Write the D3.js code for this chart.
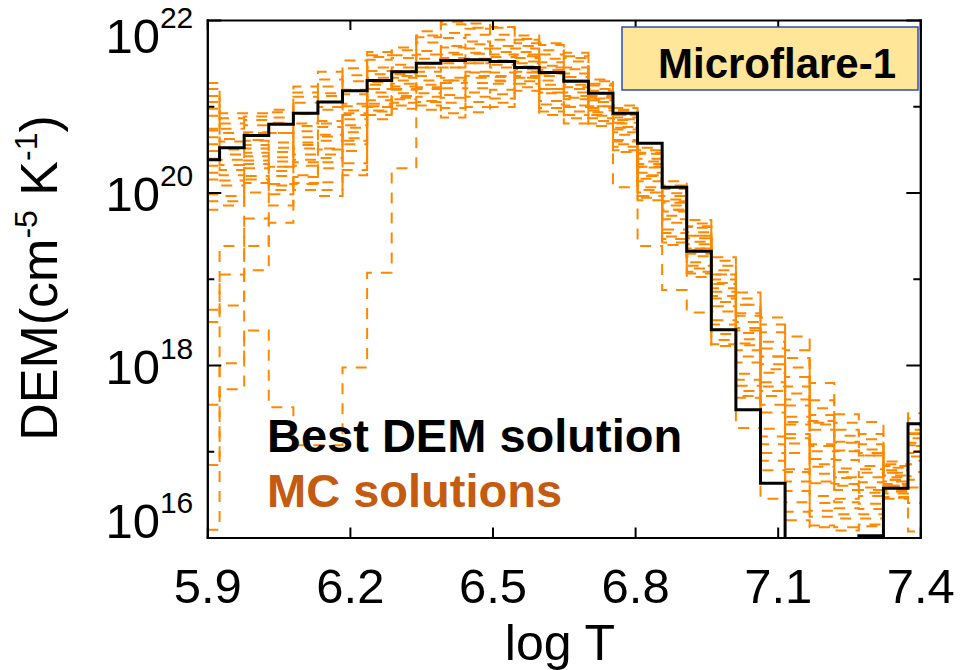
<!DOCTYPE html>
<html>
<head>
<meta charset="utf-8">
<script src="https://cdn.jsdelivr.net/npm/d3@7"></script>
<style>
  html, body { margin: 0; padding: 0; background: #fff; }
  svg { display: block; font-family: "Liberation Sans", Arial, Helvetica, sans-serif; }
</style>
</head>
<body>
<svg id="chart" width="960" height="670"></svg>
<script>
// Temperature grid (log T), 30 bins from 5.9 to 7.4
const logT = [5.9000, 5.9517, 6.0034, 6.0552, 6.1069, 6.1586, 6.2103, 6.2621, 6.3138, 6.3655,
              6.4172, 6.4690, 6.5207, 6.5724, 6.6241, 6.6759, 6.7276, 6.7793, 6.8310, 6.8828,
              6.9345, 6.9862, 7.0379, 7.0897, 7.1414, 7.1931, 7.2448, 7.2966, 7.3483, 7.4000];

// Best-fit DEM, log10(cm^-5 K^-1)
const bestDEM = [20.38, 20.52, 20.66, 20.79, 20.92, 21.05, 21.18, 21.30, 21.40, 21.50,
                 21.53, 21.54, 21.52, 21.45, 21.39, 21.29, 21.15, 20.92, 20.57, 20.06,
                 19.32, 18.41, 17.48, 16.63, 15.50, 15.20, 15.60, 16.02, 16.57, 17.32];

// Monte Carlo DEM realisations, log10(cm^-5 K^-1)
const mcRuns = [
  [21.27,20.92,20.92,20.96,21.23,21.40,21.53,21.07,21.15,21.22,21.13,21.21,21.26,21.33,21.16,21.01,20.93,20.90,20.45,19.99,19.59,19.05,18.70,18.27,17.67,17.31,17.01,16.98,16.75,17.20],
  [21.12,20.80,20.84,20.87,21.11,21.23,21.36,21.57,21.59,21.80,21.85,21.90,21.83,21.77,21.65,21.56,21.26,20.59,20.03,19.53,19.15,18.47,17.83,17.17,16.79,16.63,16.45,16.48,16.57,16.85],
  [20.97,20.69,20.70,20.81,20.92,21.12,21.19,21.28,21.33,21.45,21.45,21.50,21.48,21.52,21.38,21.22,21.07,21.01,20.52,20.13,19.68,19.25,18.84,18.55,18.17,17.59,17.33,17.20,16.85,17.38],
  [20.74,20.59,20.61,20.69,20.80,20.96,21.03,20.90,21.01,21.01,20.92,20.99,21.04,21.22,20.94,20.86,20.80,20.76,20.23,19.78,19.35,18.77,18.23,17.75,17.34,17.06,16.80,16.79,16.67,17.06],
  [20.64,20.44,20.55,20.52,20.71,20.76,20.92,21.45,21.48,21.64,21.68,21.72,21.67,21.67,21.51,21.43,21.18,20.49,19.94,19.42,19.06,18.29,17.64,16.89,16.41,16.24,16.22,16.22,16.47,16.07],
  [20.48,20.32,20.46,20.41,20.58,20.60,20.78,21.20,21.26,21.35,21.33,21.39,21.39,21.46,21.25,21.16,21.00,20.87,20.36,19.92,19.50,18.99,18.50,18.10,17.31,16.91,16.76,16.70,16.67,16.98],
  [20.31,20.20,20.37,20.30,20.44,20.44,20.63,21.63,21.68,21.87,21.98,21.96,21.92,21.82,21.73,21.62,21.31,20.67,20.13,19.65,19.26,18.62,18.03,17.45,16.76,16.48,16.41,16.39,16.55,16.76],
  [20.15,20.08,20.28,20.19,20.31,20.28,20.48,20.99,21.08,21.11,21.04,21.11,21.14,21.29,21.02,20.94,20.86,20.96,20.46,20.04,19.61,19.15,18.70,18.38,18.33,17.79,17.43,17.34,16.88,17.44],
  [19.98,19.96,20.19,20.08,20.18,20.12,20.34,21.37,21.41,21.55,21.56,21.61,21.57,21.60,21.42,21.34,21.12,20.56,20.00,19.49,19.12,18.41,17.76,17.08,16.65,16.40,16.34,16.33,16.53,16.71],
  [19.80,19.85,20.11,19.98,20.03,19.96,20.20,21.16,21.23,21.30,21.27,21.33,21.34,21.43,21.20,21.12,20.98,20.81,20.29,19.85,19.43,18.89,18.37,17.91,17.86,17.33,17.11,17.02,16.78,17.21],
  [21.20,20.86,20.88,20.93,21.16,21.31,21.44,20.85,20.97,20.96,20.87,20.93,20.99,21.18,20.90,20.80,20.77,20.73,20.19,19.73,19.33,18.73,18.17,17.64,16.98,16.65,16.55,16.52,16.60,16.85],
  [20.89,20.62,20.69,20.69,20.91,20.99,21.14,21.54,21.56,21.74,21.79,21.83,21.77,21.73,21.60,21.52,21.24,20.53,19.96,19.46,19.08,18.36,17.70,16.98,16.30,16.14,16.12,16.13,16.46,16.58],
  [20.56,20.38,20.51,20.47,20.64,20.67,20.85,21.03,21.12,21.15,21.10,21.16,21.19,21.33,21.06,20.99,20.89,20.90,20.39,19.96,19.54,19.05,18.57,18.19,17.53,17.08,16.90,16.83,16.72,17.07],
  [20.23,20.14,20.33,20.25,20.38,20.35,20.56,21.33,21.37,21.50,21.50,21.55,21.53,21.56,21.38,21.30,21.09,20.61,20.06,19.57,19.19,18.52,17.90,17.26,17.09,16.74,16.62,16.58,16.62,16.89],
  [19.90,19.90,20.15,20.03,20.11,20.03,20.26,21.59,21.65,21.82,21.95,21.91,21.91,21.78,21.71,21.58,21.29,20.98,20.49,20.08,19.64,19.21,18.77,18.47,17.97,17.42,17.18,17.08,16.81,17.25],
  [21.05,20.74,20.78,20.80,21.04,21.15,21.29,21.11,21.19,21.25,21.21,21.27,21.29,21.39,21.15,21.08,20.95,20.70,20.16,19.69,19.29,18.68,18.10,17.54,17.20,16.82,16.69,16.64,16.65,16.94],
  [20.39,20.26,20.42,20.36,20.51,20.51,20.70,21.41,21.45,21.60,21.62,21.67,21.63,21.63,21.47,21.38,21.15,20.47,19.91,19.39,19.02,18.24,17.62,16.78,16.54,16.31,16.27,16.27,16.51,16.67],
  [20.72,20.50,20.60,20.58,20.77,20.83,21.00,20.94,21.04,21.06,20.98,21.05,21.09,21.26,20.98,20.90,20.83,20.84,20.33,19.88,19.47,18.94,18.43,18.01,18.08,17.50,17.25,17.14,16.83,17.30],
  [16.09,17.72,18.40,17.51,17.07,17.07,17.97,19.07,20.28,21.05,21.30,21.40,21.35,21.40,21.30,21.20,21.00,20.75,20.20,19.80,19.40,18.85,18.30,17.80,17.40,17.00,16.70,16.75,16.60,17.10],
  [17.54,18.02,19.10,19.65,20.10,20.40,20.60,20.95,21.10,21.20,21.30,21.35,21.30,21.35,21.20,21.10,20.90,20.06,19.38,18.87,18.61,18.22,17.27,16.45,16.20,16.12,16.08,16.15,16.45,16.40],
  [16.84,18.69,19.38,19.85,20.20,20.50,20.75,21.00,21.20,21.40,21.45,21.50,21.45,21.50,21.35,21.25,21.05,20.80,20.30,19.90,19.50,18.95,18.40,17.95,17.60,17.25,17.00,16.95,16.75,17.15],
  [18.64,19.38,20.00,20.30,20.55,20.80,20.95,21.20,21.30,21.45,21.60,21.62,21.60,21.58,21.45,21.30,21.10,20.85,20.30,19.80,19.35,18.80,18.25,17.70,17.15,16.85,16.60,16.55,16.60,17.00],
  [18.50,19.05,19.70,20.10,20.35,20.65,20.90,21.25,21.35,21.50,21.70,21.75,21.70,21.70,21.55,21.45,21.20,20.95,20.45,20.05,19.60,19.10,18.60,18.10,17.75,17.35,17.10,16.95,16.70,17.20]
];

// Axis ticks
const xTicks = [5.9, 6.2, 6.5, 6.8, 7.1, 7.4];
const yMajorExp = [16, 18, 20, 22];
const yMinorExp = [17, 19, 21];

// Text
const panelTitle = "Microflare-1";
const bestLabel = "Best DEM solution";
const mcLabel = "MC solutions";

// ---- layout ----
const L = 207.3, R = 920.3, T = 20, B = 537.5;
const FONT = '"Liberation Sans", Arial, Helvetica, sans-serif';
const svg = d3.select("#chart");

const x = d3.scaleLinear().domain([5.9, 7.4]).range([L, R]);
const y = d3.scaleLog().domain([1e16, 1e22]).range([B, T]);

svg.append("defs").append("clipPath").attr("id", "plotClip")
  .append("rect").attr("x", L).attr("y", T).attr("width", R - L).attr("height", B - T);

// histogram-style step line through the bin centres
const step = d3.line()
  .x((d, i) => x(logT[i]))
  .y(d => y(Math.pow(10, d)))
  .curve(d3.curveStep);

const plot = svg.append("g").attr("clip-path", "url(#plotClip)");

plot.selectAll("path.mc")
  .data(mcRuns)
  .join("path")
  .attr("class", "mc")
  .attr("d", step)
  .attr("fill", "none")
  .attr("stroke", "#ff8800")
  .attr("stroke-width", 2)
  .attr("stroke-dasharray", "11,9");

plot.append("path")
  .datum(bestDEM)
  .attr("d", step)
  .attr("fill", "none")
  .attr("stroke", "#000")
  .attr("stroke-width", 3)
  .attr("stroke-linejoin", "miter");

// ---- axes ----
function styleAxis(g) {
  g.attr("font-family", FONT).attr("font-size", 49);
  g.selectAll(".domain").attr("stroke", "#000").attr("stroke-width", 2).attr("stroke-linecap", "square");
  g.selectAll(".tick line").attr("stroke", "#000").attr("stroke-width", 2);
}

svg.append("g")
  .attr("transform", `translate(0,${B})`)
  .call(d3.axisBottom(x).tickValues(xTicks).tickSize(-10).tickSizeOuter(0)
        .tickPadding(31).tickFormat(d3.format(".1f")))
  .call(styleAxis);

svg.append("g")
  .attr("transform", `translate(0,${T})`)
  .call(d3.axisTop(x).tickValues(xTicks).tickSize(-10).tickSizeOuter(0).tickFormat(""))
  .call(styleAxis);

const major = yMajorExp.map(e => Math.pow(10, e));
const minor = yMinorExp.map(e => Math.pow(10, e));

const gLeft = svg.append("g")
  .attr("transform", `translate(${L},0)`)
  .call(d3.axisLeft(y).tickValues(major).tickSize(-14).tickSizeOuter(0).tickPadding(14))
  .call(styleAxis);

svg.append("g")
  .attr("transform", `translate(${L},0)`)
  .call(d3.axisLeft(y).tickValues(minor).tickSize(-7).tickSizeOuter(0).tickFormat(""))
  .call(styleAxis);

svg.append("g")
  .attr("transform", `translate(${R},0)`)
  .call(d3.axisRight(y).tickValues(major).tickSize(-14).tickSizeOuter(0).tickFormat(""))
  .call(styleAxis);

svg.append("g")
  .attr("transform", `translate(${R},0)`)
  .call(d3.axisRight(y).tickValues(minor).tickSize(-7).tickSizeOuter(0).tickFormat(""))
  .call(styleAxis);

// power-of-ten labels; the end labels are pulled inside the frame
const labelBaseline = { 16: 0, 18: 18, 20: 17.5, 22: 32 };
gLeft.selectAll(".tick text").each(function (d) {
  const e = Math.round(Math.log10(d));
  const t = d3.select(this);
  t.text(null).attr("dy", null).attr("y", labelBaseline[e]).attr("text-anchor", "end");
  t.append("tspan").text("10");
  t.append("tspan").attr("dy", -25).attr("font-size", 30).text(e);
});

// axis titles
svg.append("text")
  .attr("x", 560).attr("y", 660)
  .attr("text-anchor", "middle")
  .attr("font-family", FONT).attr("font-size", 50)
  .text("log T");

const yTitle = svg.append("text")
  .attr("transform", "translate(57,278) rotate(-90)")
  .attr("text-anchor", "middle")
  .attr("font-family", FONT).attr("font-size", 52);
yTitle.append("tspan").text("DEM(cm");
yTitle.append("tspan").attr("dy", -20).attr("font-size", 32).text("-5");
yTitle.append("tspan").attr("dy", 20).text(" K");
yTitle.append("tspan").attr("dy", -20).attr("font-size", 32).text("-1");
yTitle.append("tspan").attr("dy", 20).text(")");

// panel label box
svg.append("rect")
  .attr("x", 622).attr("y", 27).attr("width", 296).attr("height", 63)
  .attr("fill", "#ffe699").attr("stroke", "#2b4fb0").attr("stroke-width", 1.5);
svg.append("text")
  .attr("x", 658).attr("y", 78)
  .attr("font-family", FONT).attr("font-size", 42).attr("font-weight", "bold")
  .attr("fill", "#000")
  .text(panelTitle);

// legend
svg.append("text")
  .attr("x", 267).attr("y", 452)
  .attr("font-family", FONT).attr("font-size", 47).attr("font-weight", "bold")
  .attr("fill", "#000")
  .text(bestLabel);
svg.append("text")
  .attr("x", 267).attr("y", 507)
  .attr("font-family", FONT).attr("font-size", 47).attr("font-weight", "bold")
  .attr("fill", "#c55a11")
  .text(mcLabel);
</script>
</body>
</html>
